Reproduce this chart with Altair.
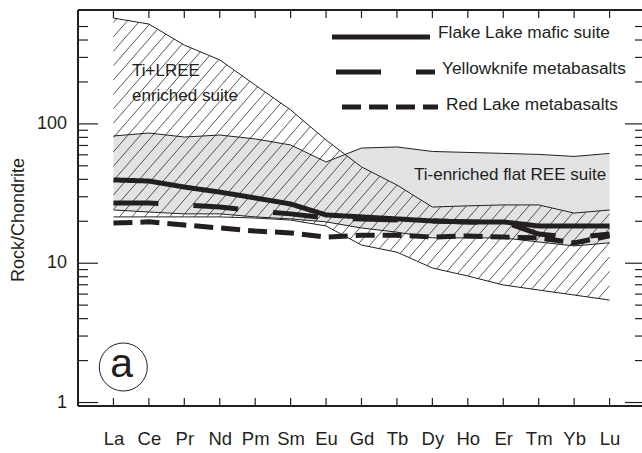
import json
import numpy as np
import pandas as pd
import altair as alt

# ---------------------------------------------------------------- data
ELEMENTS = ["La", "Ce", "Pr", "Nd", "Pm", "Sm", "Eu", "Gd", "Tb", "Dy",
            "Ho", "Er", "Tm", "Yb", "Lu"]

# Ti+LREE enriched suite envelope (hatched field)
LREE_UPPER = [575, 521, 368, 288, 190, 126, 76.6, 49.1, 36.4, 25.3, 25.8, 26.2, 26.2, 22.9, 24.1]
LREE_LOWER = [21.5, 21.5, 21.5, 21.5, 21.1, 20.4, 18.5, 13.5, 12.0, 9.24, 8.09, 6.98, 6.42, 5.91, 5.44]

# Ti-enriched flat REE suite envelope (grey field)
FLAT_UPPER = [81.9, 86.0, 80.5, 83.2, 78.0, 70.6, 53.3, 67.1, 68.3, 63.4, 62.4, 61.4, 60.4, 58.4, 61.4]
FLAT_LOWER = [24.1, 23.3, 22.6, 22.6, 21.5, 20.8, 19.8, 17.9, 16.7, 15.2, 15.2, 15.2, 14.2, 13.3, 14.0]

# Average patterns
FLAKE_LAKE = [39.6, 38.9, 35.2, 32.4, 29.4, 26.6, 22.2, 21.5, 20.8, 20.1, 19.8, 19.8, 18.5, 18.5, 18.5]
YELLOWKNIFE = [27.0, 27.0, 26.2, 25.3, 23.7, 22.6, 21.1, 20.8, 20.4, 20.1, 19.8, 19.8, 16.2, 15.2, 16.2]
RED_LAKE = [19.4, 19.8, 18.8, 17.9, 17.0, 16.5, 15.4, 15.9, 15.9, 15.4, 15.7, 15.4, 15.2, 14.0, 15.7]

SERIES = ["Flake Lake mafic suite", "Yellowknife metabasalts", "Red Lake metabasalts"]
SERIES_VALUES = [FLAKE_LAKE, YELLOWKNIFE, RED_LAKE]

MAJOR_TICKS = [1, 10, 100]
MINOR_TICKS = [2, 3, 4, 5, 6, 7, 8, 9,
               20, 30, 40, 50, 60, 70, 80, 90,
               200, 300, 400, 500]

Y_TITLE = "Rock/Chondrite"
ANNOT_LREE = ["Ti+LREE", "enriched suite"]
ANNOT_FLAT = "Ti-enriched flat REE suite"
PANEL = "a"

# ---------------------------------------------------------------- styling
FONT = "Liberation Sans"
INK = "#231f20"
GREY = "#e1e2e4"
W, H = 564, 396
X_MIN, X_MAX = -1.0, 14.915
Y_MIN, Y_MAX = 0.944, 657.0
DASHES = [[1, 0], [45, 35], [19, 8]]
LINE_W = 5

HATCH_SLOPE_PX = 1.15   # rise over run of the hatch strokes, in pixels
HATCH_GAP_PX = 12.5     # horizontal distance between hatch strokes

idx = list(range(len(ELEMENTS)))
x_scale = alt.Scale(domain=[X_MIN, X_MAX], nice=False, zero=False)
y_scale = alt.Scale(type="log", domain=[Y_MIN, Y_MAX], nice=False)

x_axis = alt.Axis(values=idx, labelExpr=json.dumps(ELEMENTS) + "[datum.value]",
                  labelFontSize=18.5, labelFont=FONT, labelColor=INK, labelPadding=23,
                  ticks=False, tickSize=0, domain=False, grid=False, title=None,
                  labelFlush=False, labelOverlap=False)


def X(field):
    return alt.X(field, type="quantitative", scale=x_scale, axis=x_axis)


def Y(field):
    return alt.Y(field, type="quantitative", scale=y_scale, axis=None)


# ---------------------------------------------------------------- tables
fields = pd.DataFrame({"u": idx, "el": ELEMENTS,
                       "lree_hi": LREE_UPPER, "lree_lo": LREE_LOWER,
                       "flat_hi": FLAT_UPPER, "flat_lo": FLAT_LOWER})

bounds = pd.concat([
    pd.DataFrame({"u": idx, "v": vals, "bound": name})
    for name, vals in [("lree_hi", LREE_UPPER), ("lree_lo", LREE_LOWER),
                       ("flat_hi", FLAT_UPPER), ("flat_lo", FLAT_LOWER)]
], ignore_index=True)

series = pd.concat([
    pd.DataFrame({"u": idx, "v": vals, "series": name})
    for name, vals in zip(SERIES, SERIES_VALUES)
], ignore_index=True)

# hatch strokes clipped to the Ti+LREE envelope (straight lines in log space)
px_per_u = W / (X_MAX - X_MIN)
px_per_dec = H / (np.log10(Y_MAX) - np.log10(Y_MIN))
k = HATCH_SLOPE_PX * px_per_u / px_per_dec
dc = k * HATCH_GAP_PX / px_per_u
uu = np.linspace(0, len(ELEMENTS) - 1, 14001)
lo = np.interp(uu, idx, np.log10(LREE_LOWER))
hi = np.interp(uu, idx, np.log10(LREE_UPPER))
segs = []
for c in np.arange((lo - k * uu).min(), (hi - k * uu).max(), dc):
    L = c + k * uu
    inside = np.concatenate([[False], (L >= lo) & (L <= hi), [False]])
    d = np.diff(inside.astype(int))
    starts = np.where(d == 1)[0]
    ends = np.where(d == -1)[0] - 1
    for s, e in zip(starts, ends):
        if e > s:
            segs.append((uu[s], 10 ** L[s], uu[e], 10 ** L[e]))
hatch = pd.DataFrame(segs, columns=["u1", "v1", "u2", "v2"])

ticks_x = pd.DataFrame({"u": idx})
ticks_major = pd.DataFrame({"v": MAJOR_TICKS, "t": [str(v) for v in MAJOR_TICKS]})
ticks_minor = pd.DataFrame({"v": MINOR_TICKS})

# ---------------------------------------------------------------- layers
grey_field = alt.Chart(fields).mark_area(color=GREY, opacity=1).encode(
    x=X("u"), y=Y("flat_hi"), y2="flat_lo")

hatch_layer = alt.Chart(hatch).mark_rule(color=INK, strokeWidth=0.75).encode(
    x=X("u1"), x2="u2", y=Y("v1"), y2="v2")

bound_lines = alt.Chart(bounds).mark_line(color=INK, strokeWidth=1).encode(
    x=X("u"), y=Y("v"), detail="bound:N")

series_layers = []
for name, dash in reversed(list(zip(SERIES, DASHES))):
    series_layers.append(
        alt.Chart(series).transform_filter(alt.datum.series == name)
        .mark_line(color=INK, strokeWidth=LINE_W, strokeDash=dash, strokeCap="butt")
        .encode(x=X("u"), y=Y("v"), order="u:Q"))

# frame (the right edge lies beyond the canvas)
frame = [
    alt.Chart(ticks_x).mark_rule(color=INK, strokeWidth=1.5).encode(
        x=alt.value(0), x2=alt.value(W), y=alt.value(0)),
    alt.Chart(ticks_x).mark_rule(color=INK, strokeWidth=1.5).encode(
        x=alt.value(0), x2=alt.value(W), y=alt.value(H)),
    alt.Chart(ticks_x).mark_rule(color=INK, strokeWidth=1.5).encode(
        x=alt.value(0), y=alt.value(0), y2=alt.value(H)),
]

# inward-pointing ticks on all four sides
tick_layers = [
    alt.Chart(ticks_x).mark_rule(color=INK, strokeWidth=1.2).encode(
        x=X("u"), y=alt.value(0), y2=alt.value(8)),
    alt.Chart(ticks_x).mark_rule(color=INK, strokeWidth=1.2).encode(
        x=X("u"), y=alt.value(H - 8), y2=alt.value(H)),
    alt.Chart(ticks_major).mark_rule(color=INK, strokeWidth=1.2).encode(
        y=Y("v"), x=alt.value(0), x2=alt.value(20)),
    alt.Chart(ticks_minor).mark_rule(color=INK, strokeWidth=1.2).encode(
        y=Y("v"), x=alt.value(0), x2=alt.value(10)),
    alt.Chart(ticks_major).mark_rule(color=INK, strokeWidth=1.2).encode(
        y=Y("v"), x=alt.value(W - 17), x2=alt.value(W)),
    alt.Chart(ticks_minor).mark_rule(color=INK, strokeWidth=1.2).encode(
        y=Y("v"), x=alt.value(W - 7), x2=alt.value(W)),
]

# y tick labels and title
y_labels = alt.Chart(ticks_major).mark_text(
    font=FONT, fontSize=18, color=INK, align="right", baseline="middle").encode(
    y=Y("v"), x=alt.value(-11), text="t:N")
y_title = alt.Chart(pd.DataFrame({"t": [Y_TITLE]})).mark_text(
    font=FONT, fontSize=18, color=INK, align="center", baseline="middle", angle=270).encode(
    x=alt.value(-59), y=alt.value(210), text="t:N")

# field labels
lree_text = pd.DataFrame({"t": ANNOT_LREE, "px": 54, "py": [65.7, 90.7]})
lree_label = alt.Chart(lree_text).mark_text(
    font=FONT, fontSize=17, color=INK, align="left", baseline="alphabetic").encode(
    x=alt.X("px:Q", scale=None), y=alt.Y("py:Q", scale=None), text="t:N")
flat_label = alt.Chart(pd.DataFrame({"t": [ANNOT_FLAT]})).mark_text(
    font=FONT, fontSize=17, color=INK, align="left", baseline="alphabetic").encode(
    x=alt.value(336), y=alt.value(170), text="t:N")

# legend
leg = pd.DataFrame({
    "series": SERIES,
    "x1": [254, 258, 264], "x2": [352, 357, 360],
    "ly": [27, 62, 97], "tx": [360, 364, 368], "ty": [28, 64, 100],
})
legend_layers = []
for i, (name, dash) in enumerate(zip(SERIES, DASHES)):
    row = leg.iloc[[i]]
    legend_layers.append(
        alt.Chart(row).mark_rule(color=INK, strokeWidth=LINE_W, strokeDash=dash,
                                 strokeCap="butt").encode(
            x=alt.X("x1:Q", scale=None), x2="x2:Q", y=alt.Y("ly:Q", scale=None)))
legend_text = alt.Chart(leg).mark_text(
    font=FONT, fontSize=17.3, color=INK, align="left", baseline="alphabetic").encode(
    x=alt.X("tx:Q", scale=None), y=alt.Y("ty:Q", scale=None), text="series:N")

# panel marker
panel_df = pd.DataFrame({"t": [PANEL]})
panel_circle = alt.Chart(panel_df).mark_point(
    shape="circle", size=2304, filled=False, color=INK, strokeWidth=1, opacity=1).encode(
    x=alt.value(45.3), y=alt.value(357))
panel_text = alt.Chart(panel_df).mark_text(
    font=FONT, fontSize=41, color=INK, align="center", baseline="alphabetic").encode(
    x=alt.value(43.7), y=alt.value(367), text="t:N")

chart = alt.layer(
    grey_field, hatch_layer, bound_lines, *series_layers,
    lree_label, flat_label, *legend_layers, legend_text,
    panel_circle, panel_text, *tick_layers, *frame, y_labels, y_title,
).properties(
    width=W, height=H,
    autosize=alt.AutoSizeParams(type="none"),
    padding={"left": 78, "top": 10, "right": 0, "bottom": 47},
    background="white",
).configure_view(stroke=None)

chart.save("out.html", embed_options={"renderer": "svg", "actions": False})
